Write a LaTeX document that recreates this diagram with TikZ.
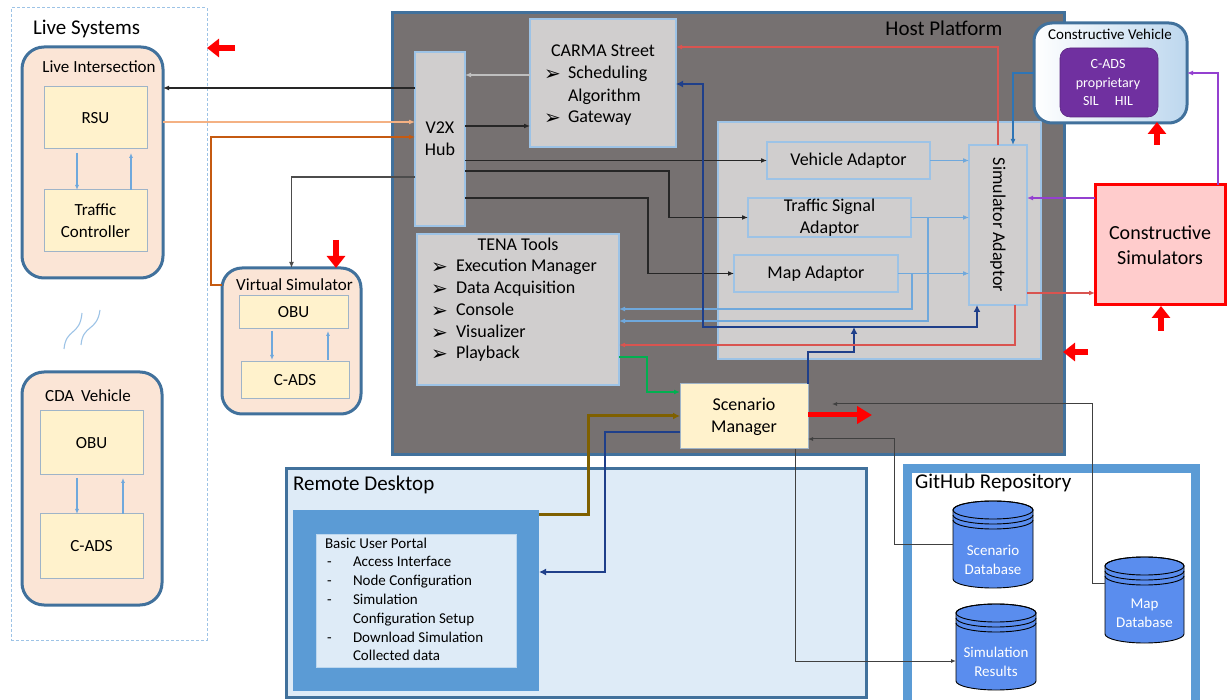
\documentclass[tikz,border=0pt]{standalone}
\usepackage{fontspec}
\setmainfont{Carlito}
\newfontfamily\symfont{DejaVu Sans}
\usetikzlibrary{arrows.meta,calc}

\definecolor{peach}{HTML}{FBE5D6}
\definecolor{bordblue}{HTML}{41719C}
\definecolor{ylw}{HTML}{FFF2CC}
\definecolor{ybord}{HTML}{9FB4C8}
\definecolor{hostgray}{HTML}{767171}
\definecolor{lgray}{HTML}{D0CECE}
\definecolor{gbord}{HTML}{9DC3E6}
\definecolor{rdfill}{HTML}{DEEBF7}
\definecolor{ubblue}{HTML}{5B9BD5}
\definecolor{cvblue}{HTML}{BDD7EE}
\definecolor{csfill}{HTML}{FFCCCC}
\definecolor{purp}{HTML}{7030A0}
\definecolor{dbfill}{HTML}{5A8DEE}
\definecolor{navy}{HTML}{1F3F8A}
\definecolor{olive}{HTML}{7F6000}
\definecolor{grn}{HTML}{00B050}
\definecolor{orng}{HTML}{F4B183}
\definecolor{brwn}{HTML}{C55A11}
\definecolor{lline}{HTML}{6FA8DC}
\definecolor{redline}{HTML}{D95450}
\definecolor{purline}{HTML}{9440D0}
\definecolor{cvline}{HTML}{2E75B6}

% Wingdings-like arrowhead bullet
\newcommand\bul{{\symfont\fontsize{20}{20}\selectfont\char"27A2}}

% database drum: centre x, top y, bottom y, half width
\newcommand\dbdrum[4]{%
  \filldraw[draw=black, line width=0.9pt, fill=dbfill]
    (#1-#4,#2+9) -- (#1-#4,#3-9)
    arc[start angle=180, end angle=0, x radius=#4, y radius=9]
    -- (#1+#4,#2+9)
    arc[start angle=0, end angle=-180, x radius=#4, y radius=9] -- cycle;
  \draw[line width=0.9pt] (#1,#2+9) ellipse[x radius=#4, y radius=9];
  \draw[line width=0.9pt] (#1-#4,#2+14) arc[start angle=180, end angle=0, x radius=#4, y radius=9];
  \draw[line width=0.9pt] (#1-#4,#2+19) arc[start angle=180, end angle=0, x radius=#4, y radius=9];
}

\begin{document}
\begin{tikzpicture}[x=1pt,y=-1pt,
  every node/.style={inner sep=0pt, outer sep=0pt},
  fs/.style 2 args={font=\fontsize{#1}{#2}\selectfont},
  rbox/.style={draw=bordblue, line width=3pt, fill=peach, rounded corners=22pt, anchor=north west},
  ybox/.style={draw=ybord, line width=1pt, fill=ylw, anchor=north west, fs={17}{22}, align=center},
  gbox/.style={draw=gbord, line width=1.2pt, fill=lgray, anchor=north west, fs={18}{22}, align=center},
  tip/.style={-{Latex[length=6pt,width=5pt]}},
  smalltip/.style={-{Latex[length=5pt,width=4pt]}},
  blkc/.style={tip, draw=black!85, line width=1.4pt},
  orgc/.style={tip, draw=orng, line width=1.5pt},
  brnc/.style={tip, draw=brwn, line width=1.5pt},
  grayc/.style={tip, draw=black!25, line width=2.5pt},
  lbc/.style={tip, draw=lline, line width=1.3pt},
  inner/.style={smalltip, draw=lline, line width=1.1pt},
  redc/.style={tip, draw=redline, line width=1.8pt},
  purc/.style={tip, draw=purline, line width=1.4pt},
  bluc/.style={tip, draw=cvline, line width=1.8pt},
  navc/.style={-{Latex[length=7pt,width=7pt]}, draw=navy, line width=2.8pt},
  grnc/.style={tip, draw=grn, line width=1.6pt},
  olvc/.style={-{Latex[length=7pt,width=7pt]}, draw=olive, line width=3pt},
  thinc/.style={smalltip, draw=black!75, line width=1pt},
  bigred/.style={draw=red, line width=6pt, -{Triangle[length=12pt,width=18pt]}},
]
\useasboundingbox (0,0) rectangle (1227,700);

% ---------------- Live systems ----------------
\node[draw=gbord, line width=1pt, dash pattern=on 3pt off 2pt, minimum width=196, minimum height=632, anchor=north west] (live) at (11,8) {};
\node[anchor=base west, fs={21}{24}] (livet) at (33,35) {Live Systems};

\node[rbox, minimum width=141, minimum height=231] (li) at (22,47) {};
\node[anchor=base, fs={17}{20}] (lit) at (99,72.5) {Live Intersection};
\node[ybox, minimum width=103, minimum height=62] (rsu) at (44,87) {RSU};
\node[ybox, minimum width=103, minimum height=62] (tc) at (44,190) {Traffic\\Controller};
\draw[inner] ($(rsu.south west)+(33,4)$) -- ($(tc.north west)+(33,0)$);
\draw[inner] ($(tc.north west)+(87,0)$) -- ($(rsu.south west)+(87,4)$);

% wavy break marks
\draw[gbord, line width=1.1pt] (64,349) .. controls (66,328) and (80,336) .. (82,313);
\draw[gbord, line width=1.1pt] (81,345) .. controls (83,324) and (97,332) .. (100,310);

\node[rbox, minimum width=140, minimum height=233] (cda) at (22,372) {};
\node[anchor=base, fs={17}{20}] (cdat) at (88,401.5) {CDA\hspace{3pt} Vehicle};
\node[ybox, minimum width=103, minimum height=64] (obu1) at (40,411) {OBU};
\node[ybox, minimum width=103, minimum height=64] (cads1) at (40,514) {C-ADS};
\draw[inner] ($(obu1.south west)+(37,3)$) -- ($(cads1.north west)+(37,0)$);
\draw[inner] ($(cads1.north west)+(83,0)$) -- ($(obu1.south west)+(83,3)$);

\node[rbox, rounded corners=20pt, minimum width=139, minimum height=146] (vs) at (222,268) {};
\node[anchor=base, fs={17}{20}] (vst) at (294.5,290.5) {Virtual Simulator};
\node[ybox, minimum width=109, minimum height=33] (obu2) at (239,296) {OBU};
\node[ybox, minimum width=108, minimum height=37] (cads2) at (241,362) {C-ADS};
\draw[inner] ($(obu2.south west)+(33,2)$) -- ($(cads2.north west)+(31,-2)$);
\draw[inner] ($(cads2.north west)+(87,-2)$) -- ($(obu2.south west)+(89,2)$);

% ---------------- Host platform ----------------
\node[draw=bordblue, line width=3pt, fill=hostgray, minimum width=672, minimum height=442, anchor=north west] (host) at (392,13) {};
\node[anchor=base, fs={21}{24}] (hostt) at (944,36) {Host Platform};

\node[gbox, minimum width=50, minimum height=174] (v2x) at (415,52) {V2X\\Hub};

\node[gbox, minimum width=146, minimum height=128] (carma) at (530,19) {};
\node[anchor=base, fs={18}{22}] (carmat) at (603,57) {CARMA Street};
\node[anchor=base west] (carb1) at (544,81) {\bul};
\node[anchor=base west, fs={18}{22}] (carl1) at (568,79) {Scheduling};
\node[anchor=base west, fs={18}{22}] (carl2) at (568,102) {Algorithm};
\node[anchor=base west] (carb3) at (544,125) {\bul};
\node[anchor=base west, fs={18}{22}] (carl3) at (568,123) {Gateway};

\node[gbox, minimum width=202, minimum height=151] (tena) at (417,234) {};
\node[anchor=base west, fs={18}{22}, anchor=base] (tenat) at (518,251) {TENA Tools};
\foreach \t [count=\i] in {Execution Manager, Data Acquisition, Console, Visualizer, Playback} {
  \node[anchor=base west] (tenab\i) at (431,{252+21.8*\i}) {\bul};
  \node[anchor=base west, fs={18}{22}] (tenal\i) at (456,{250+21.8*\i}) {\t};
}

\node[gbox, minimum width=323, minimum height=237] (panel) at (718,122) {};
\node[gbox, minimum width=163, minimum height=37] (va) at (767,142) {Vehicle Adaptor};
\node[gbox, minimum width=163, minimum height=39] (tsa) at (748,198) {Traffic Signal\\Adaptor};
\node[gbox, minimum width=164, minimum height=37] (ma) at (734,255) {Map Adaptor};
\node[gbox, minimum width=58, minimum height=160] (sa) at (969,145) {};
\node[rotate=-90, fs={18}{22}] (sat) at (sa.center) {Simulator Adaptor};

\node[ybox, fs={18}{22}, minimum width=128, minimum height=65] (sm) at (680,384) {Scenario\\Manager};

% ---------------- Constructive side ----------------
\node[draw=bordblue, line width=3pt, left color=white, right color=cvblue, rounded corners=18pt, minimum width=153, minimum height=100, anchor=north west] (cv) at (1034,23) {};
\node[anchor=base, fs={15}{18}] (cvt) at (1110,40) {Constructive Vehicle};
\node[draw=purp!80!black, line width=0.6pt, fill=purp, rounded corners=10pt, minimum width=98, minimum height=69, anchor=north west] (cads3) at (1060,48) {};
\node[text=white, align=center, fs={14}{18.5}] (cads3t) at (1108,83) {C-ADS\\proprietary\\SIL\hspace{16pt}HIL};

\node[draw=red, line width=3pt, fill=csfill, minimum width=130, minimum height=120, anchor=north west, fs={20}{25}, align=center] (cs) at (1095,185) {Constructive\\Simulators};

% ---------------- Remote desktop ----------------
\node[draw=bordblue, line width=3pt, fill=rdfill, minimum width=580, minimum height=228, anchor=north west] (rd) at (286,469) {};
\node[anchor=base west, fs={21}{24}] (rdt) at (293,490) {Remote Desktop};
\node[fill=ubblue, minimum width=246, minimum height=181, anchor=north west] (ub) at (293,510) {};
\node[draw=cvblue, line width=1pt, fill=rdfill, minimum width=200, minimum height=133, anchor=north west] (portal) at (316,534) {};
\node[anchor=base west, fs={15}{18}] (pt0) at (325,548) {Basic User Portal};
\foreach \t/\d [count=\i] in {Access Interface/-, Node Configuration/-, Simulation/-, Configuration Setup/{}, Download Simulation/-, Collected data/{}} {
  \node[anchor=base west, fs={15}{18}] (pd\i) at (327,{548+18.8*\i}) {\d};
  \node[anchor=base west, fs={15}{18}] (pt\i) at (353,{548+18.8*\i}) {\t};
}

% ---------------- GitHub repository ----------------
\draw[ubblue, line width=9pt, fill=white] (907.5,469) rectangle (1195,712);
\node[anchor=base west, fs={21}{24}] (ght) at (915,489) {GitHub Repository};
\dbdrum{993}{501}{588}{40}
\dbdrum{996}{604}{690}{40}
\dbdrum{1144.5}{557}{643}{39.5}
\node[minimum width=80, minimum height=87, anchor=north west] (sdb) at (953,501) {};
\node[minimum width=80, minimum height=86, anchor=north west] (simres) at (956,604) {};
\node[minimum width=79, minimum height=86, anchor=north west] (mdb) at (1105,557) {};
\node[text=white, align=center, fs={15}{19}] (sdbt) at (993,560) {Scenario\\Database};
\node[text=white, align=center, fs={15}{19}] (simrest) at (996,662) {Simulation\\Results};
\node[text=white, align=center, fs={15}{19}] (mdbt) at (1144.5,613) {Map\\Database};

% ---------------- Connectors ----------------
\coordinate (q1) at ($(v2x.north west)+(0,36)$);
\draw[blkc] (q1) -- (q1 -| li.east);
\coordinate (q2) at ($(li.north east)+(0,75)$);
\draw[orgc] (q2) -- (q2 -| v2x.west);
\draw[brnc] ($(vs.north west)+(0,17)$) -| ($(v2x.north west)+(-204,85)$) -- ($(v2x.north west)+(0,85)$);
\draw[blkc, draw=black!70] ($(v2x.north west)+(0,125)$) -| (vs.north);

\coordinate (q5) at ($(carma.north west)+(0,56)$);
\draw[grayc] (q5) -- (q5 -| v2x.east);
\coordinate (q6) at ($(v2x.north east)+(0,74)$);
\draw[blkc] (q6) -- (q6 -| carma.west);
\draw[blkc] (va.west -| v2x.east) -- (va.west);
\draw[blkc] ($(v2x.north east)+(0,119)$) -| ($(tsa.west)+(-79,0)$) -- (tsa.west);
\draw[blkc] ($(v2x.north east)+(0,146)$) -| ($(ma.west)+(-86,0)$) -- (ma.west);

\draw[lbc] (va.east) -- (va.east -| sa.west);
\draw[lbc] (tsa.east) -- (tsa.east -| sa.west);
\draw[lbc] (ma.east) -- (ma.east -| sa.west);
\draw[lbc] ($(tsa.east)+(17,0)$) |- ($(tena.north east)+(0,87)$);
\draw[lbc] ($(ma.east)+(14,0)$) |- ($(tena.north east)+(0,75)$);

% scenario manager fan-out to CARMA and the simulator adaptor
\coordinate (jn) at (854,327);
\coordinate (c84) at ($(carma.north east)+(0,65)$);
\draw[navc] (sm.north east) -- ++(0,-32) -| (jn);
\draw[navc] (jn) -| ($(c84)+(27,0)$) -- (c84);
\draw[navc] (jn) -| ($(sa.south)+(-21,0)$);

\draw[redc] (sa.north) |- ($(carma.north east)+(0,28)$);
\draw[redc] ($(sa.south)+(17,0)$) |- ($(tena.north east)+(0,111)$);
\coordinate (q15) at ($(sa.north east)+(0,148)$);
\draw[redc] (q15) -- (q15 -| cs.west);
\coordinate (q16) at ($(cs.north west)+(0,13)$);
\draw[purc] (q16) -- (q16 -| sa.east);
\draw[purc] ($(cs.north east)+(-7,0)$) |- (cv.east);
\draw[bluc] (cv.west) -| ($(sa.north)+(15,0)$);

\draw[grnc] ($(tena.north east)+(0,123)$) -| ($(sm.north west)+(-33,8)$) -- ($(sm.north west)+(0,8)$);
\draw[olvc] ($(ub.north east)+(0,5)$) -| ($(sm.north west)+(-92,32)$) -- ($(sm.north west)+(0,32)$);
\draw[navc] ($(sm.north west)+(0,48)$) -| ($(ub.north east)+(66,62)$) -- ($(ub.north east)+(0,62)$);

\draw[thinc] ($(sm.south)+(51,0)$) |- ($(simres.west)+(0,14)$);
\draw[thinc] (sdb.west) -| ($(sm.north east)+(86,55)$) -- ($(sm.north east)+(0,55)$);
\draw[thinc] ($(mdb.west)+(0,-17)$) -| ($(sm.north east)+(284,20)$) -- ($(sm.north east)+(24,20)$);

\draw[draw=red, line width=5pt, -{Triangle[length=15pt,width=17pt]}] ($(sm.north east)+(0,31)$) -- ++(64,0);

% ---------------- red markers ----------------
\draw[bigred] (235,48) -- (207,48);
\draw[bigred] (336,240) -- (336,268);
\draw[bigred] (1157,145) -- (1157,122);
\draw[bigred] (1161,331) -- (1161,306);
\draw[bigred] (1088,352) -- (1063,352);
\end{tikzpicture}
\end{document}
